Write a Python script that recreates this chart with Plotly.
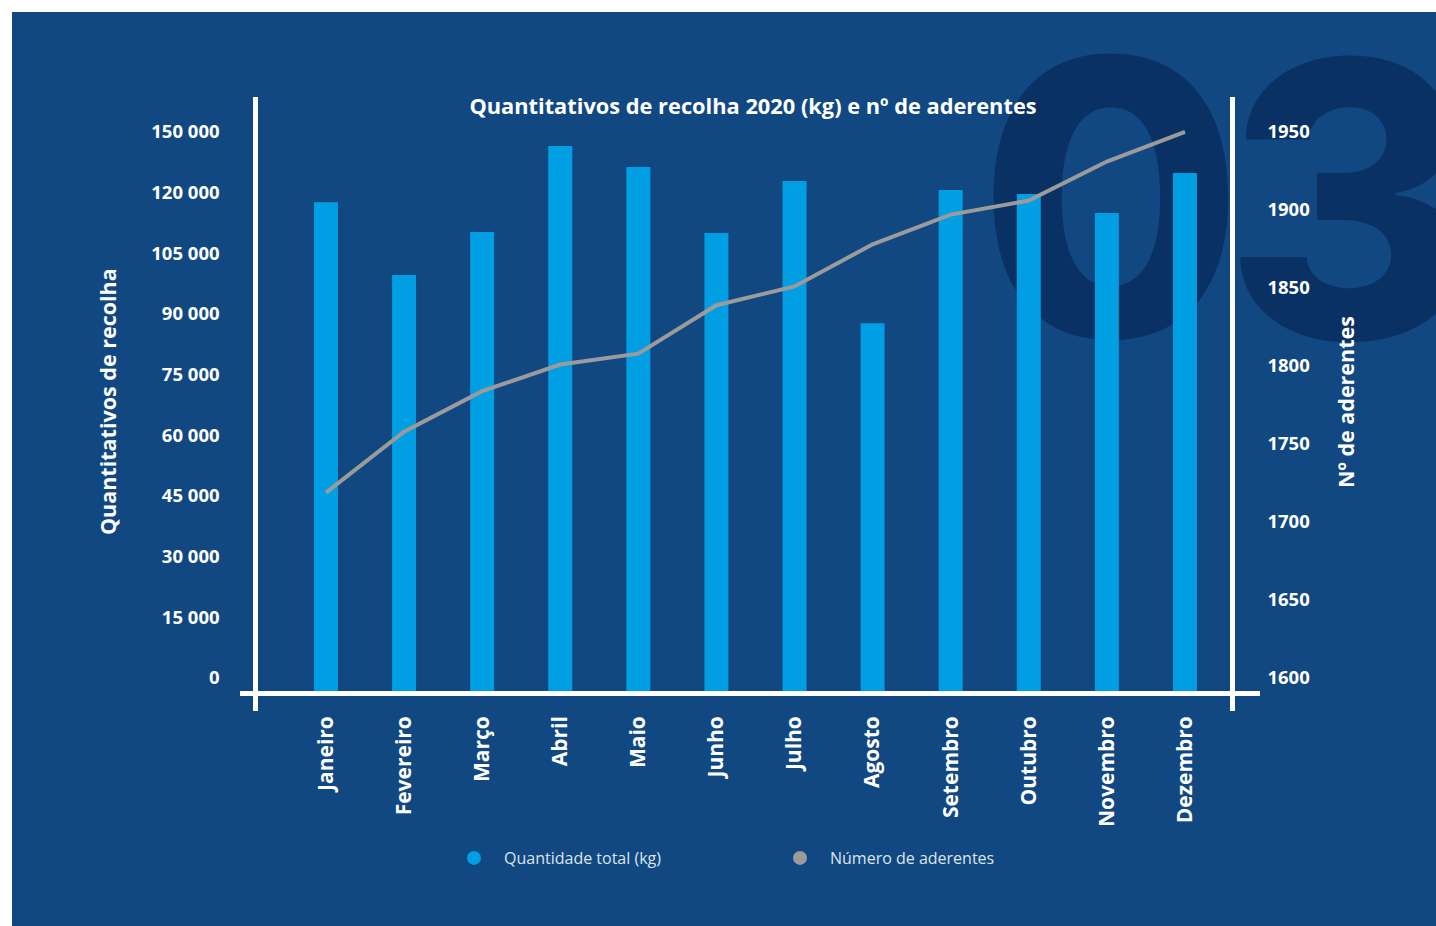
import plotly.graph_objects as go

W, H = 1436, 926

# ---- data ----
meses = ["Janeiro", "Fevereiro", "Março", "Abril", "Maio", "Junho",
         "Julho", "Agosto", "Setembro", "Outubro", "Novembro", "Dezembro"]
quantidade_kg = [120800, 102800, 113400, 134700, 129500, 113200,
                 126000, 90900, 123800, 122800, 118100, 128000]
aderentes = [1727, 1766, 1792, 1809, 1816, 1847,
             1859, 1886, 1905, 1914, 1939, 1958]
y_tickvals = [0, 15000, 30000, 45000, 60000, 75000, 90000, 105000, 120000, 135000]
y_ticktext = ["0", "15 000", "30 000", "45 000", "60 000", "75 000",
              "90 000", "105 000", "120 000", "150 000"]
y2_tickvals = [1600, 1650, 1700, 1750, 1800, 1850, 1900, 1950]
y2_ticktext = ["1600", "1650", "1700", "1750", "1800", "1850", "1900", "1950"]
titulo = "Quantitativos de recolha 2020 (kg) e nº de aderentes"
titulo_y = "Quantitativos de recolha"
titulo_y2 = "Nº de aderentes"
nome_barras = "Quantidade total (kg)"
nome_linha = "Número de aderentes"
marca_agua = ["0", "3"]

# ---- style ----
BG = "#114882"
WM = "#0a3163"
BAR = "#009fe3"
LINE = "#9b9b9b"
FONT = "Open Sans"


def px(x):
    return x / W


def py(y):
    return 1 - y / H


fig = go.Figure()
fig.add_trace(go.Bar(x=meses, y=quantidade_kg, marker=dict(color=BAR, line=dict(width=0)),
                     width=0.307, yaxis="y", showlegend=False, hoverinfo="skip"))
fig.add_trace(go.Scatter(x=meses, y=aderentes, yaxis="y2", mode="lines",
                         line=dict(color=LINE, width=4), showlegend=False, hoverinfo="skip"))
# legend entries (circle symbols)
fig.add_trace(go.Scatter(x=[None], y=[None], mode="markers", name=nome_barras,
                         marker=dict(color=BAR, size=14)))
fig.add_trace(go.Scatter(x=[None], y=[None], mode="markers", name=nome_linha,
                         marker=dict(color=LINE, size=14)))

tickfont = dict(family=FONT, size=18.5, color="white", weight="bold")


def wm_shape(text, cx, cy):
    return dict(type="rect", xref="paper", yref="paper",
                x0=px(cx - 200), x1=px(cx + 200), y0=py(cy + 200), y1=py(cy - 200),
                fillcolor="rgba(0,0,0,0)", line=dict(width=0), layer="below",
                label=dict(text=text, textposition="middle center",
                           font=dict(family="Inter", size=384, color=WM, weight=800)))


fig.update_layout(
    width=W, height=H, autosize=False,
    margin=dict(l=0, r=0, t=0, b=0, pad=0),
    paper_bgcolor="white",
    plot_bgcolor="rgba(0,0,0,0)",
    title=dict(text=titulo, x=px(753), y=py(106), xanchor="center", yanchor="middle",
               font=dict(family=FONT, size=21.8, color="white", weight="bold")),
    xaxis=dict(domain=[px(240), px(1260)], range=[-1.101, 11.961], anchor="free",
               position=py(693), showline=True, linecolor="white", linewidth=4.5,
               ticks="", tickangle=-90, ticklabelstandoff=12,
               tickfont=dict(family=FONT, size=21, color="white", weight="bold"),
               showgrid=False, zeroline=False, type="category", fixedrange=True),
    yaxis=dict(domain=[py(711), py(97)], range=[-4942, 146780], anchor="free",
               position=px(255), showline=True, linecolor="white", linewidth=4.5,
               tickmode="array", tickvals=y_tickvals, ticktext=y_ticktext,
               ticks="", ticklabelstandoff=30, ticklabelshift=-13, tickfont=tickfont,
               showgrid=False, zeroline=False),
    yaxis2=dict(domain=[py(711), py(97)], range=[1587.2, 1980.3], anchor="free",
                overlaying="y", side="right",
                position=px(1232), showline=True, linecolor="white", linewidth=4.5,
                tickmode="array", tickvals=y2_tickvals, ticktext=y2_ticktext,
                ticks="", ticklabelstandoff=29, ticklabelshift=-13, tickfont=tickfont,
                showgrid=False, zeroline=False),
    legend=dict(orientation="h", x=px(444), y=py(858), xanchor="left", yanchor="middle",
                font=dict(family=FONT, size=16, color="#dde4ee"),
                itemwidth=50, entrywidth=261, entrywidthmode="pixels",
                bgcolor="rgba(0,0,0,0)"),
    shapes=[
        dict(type="rect", xref="paper", yref="paper", x0=px(12), x1=1, y0=0, y1=py(12),
             fillcolor=BG, line=dict(width=0), layer="below"),
        wm_shape(marca_agua[0], 1111, 185),
        wm_shape(marca_agua[1], 1350, 187),
    ],
    annotations=[
        dict(text=titulo_y, x=px(107), y=py(402), xref="paper", yref="paper",
             textangle=-90, showarrow=False, xanchor="center", yanchor="middle",
             font=dict(family=FONT, size=21.5, color="white", weight="bold")),
        dict(text=titulo_y2, x=px(1345), y=py(402), xref="paper", yref="paper",
             textangle=-90, showarrow=False, xanchor="center", yanchor="middle",
             font=dict(family=FONT, size=21.5, color="white", weight="bold")),
    ],
)

fig.write_html(
    "out.html",
    config={"displayModeBar": False},
    post_script="document.body.style.margin='0';document.body.style.overflow='hidden';",
)
